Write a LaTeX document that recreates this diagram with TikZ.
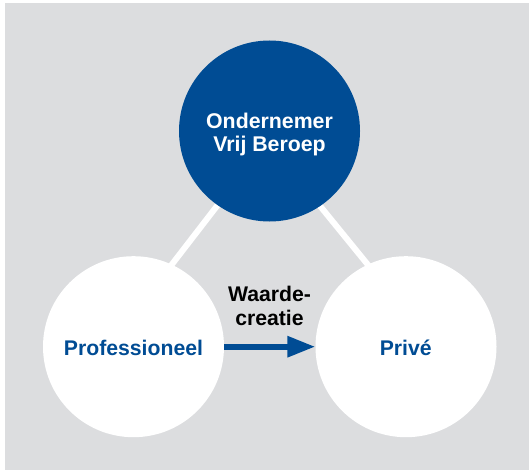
\documentclass[tikz,border=0pt]{standalone}
\usepackage{fontspec}
\setmainfont{Liberation Sans}
\usetikzlibrary{arrows.meta,backgrounds}
\definecolor{bgray}{HTML}{DCDDDF}
\definecolor{dblue}{HTML}{004C94}
\tikzset{
  circ/.style={circle, minimum size=181pt, inner sep=0pt, fill=white},
  topcirc/.style={circ, fill=dblue},
  link/.style={draw=white, line width=6pt, shorten <=-5pt, shorten >=-5pt},
  flow/.style={draw=dblue, line width=6pt, -{Triangle[length=28pt,width=20pt]}},
  toplabel/.style={text=white, font=\bfseries\fontsize{21.3}{23.4}\selectfont},
  botlabel/.style={text=dblue, font=\bfseries\fontsize{21.2}{24}\selectfont},
  midlabel/.style={text=black, font=\bfseries\fontsize{21.2}{24}\selectfont}
}
\begin{document}
\begin{tikzpicture}[x=1pt,y=-1pt]
\useasboundingbox (0,0) rectangle (529,470);
\node[topcirc] (top) at (269.5,131) {};
\node[circ] (left) at (133.5,346.7) {};
\node[circ] (right) at (406,346.7) {};
\begin{scope}[on background layer]
  \fill[bgray] (5,3) rectangle (529,470);
  \draw[link] (top.235) -- (left.65);
  \draw[link] (top.304) -- (right.115);
\end{scope}
\node[toplabel, anchor=base] (tl1) at (269.5,128.3) {Ondernemer};
\node[toplabel, anchor=base] (tl2) at (269.5,151.7) {Vrij Beroep};
\node[botlabel, anchor=base] (pl) at (133.5,355) {Professioneel};
\node[botlabel, anchor=base] (pr) at (405.7,355) {Privé};
\node[midlabel, anchor=base] (w1) at (269.5,301.7) {Waarde-};
\node[midlabel, anchor=base] (w2) at (269.5,325) {creatie};
\draw[flow] (left.east) -- (right.west);
\end{tikzpicture}
\end{document}
